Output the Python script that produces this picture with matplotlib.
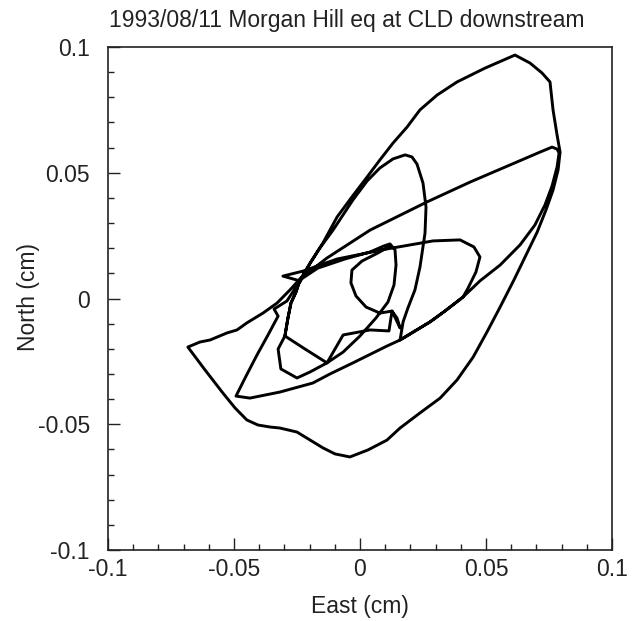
import matplotlib
matplotlib.use("Agg")
import matplotlib.pyplot as plt
import numpy as np
from matplotlib.ticker import MultipleLocator

plt.rcParams['font.family'] = ['Liberation Sans', 'DejaVu Sans']

title = "1993/08/11 Morgan Hill eq at CLD downstream"
xlabel = "East (cm)"
ylabel = "North (cm)"
ticks = [-0.1, -0.05, 0, 0.05, 0.1]
tick_labels = ["-0.1", "-0.05", "0", "0.05", "0.1"]

# particle motion (cm)
# outer loop
east_outer = [-0.0238, -0.0198, -0.0147, -0.0091, -0.0032, 0.0028, 0.0079, 0.0131, 0.0187, 0.0238,
              0.0306, 0.0385, 0.0496, 0.0615, 0.0675, 0.0722, 0.0754, 0.0766, 0.0782, 0.0794,
              0.0786, 0.0766, 0.0738, 0.0703, 0.0663, 0.0611, 0.0556, 0.0504, 0.0449, 0.0385,
              0.0318, 0.0238, 0.0159, 0.0107, 0.0032, -0.0040, -0.0099, -0.0147, -0.0198, -0.0250,
              -0.0318, -0.0357, -0.0405, -0.0449, -0.0496, -0.0544, -0.0615, -0.0683, -0.0635, -0.0595,
              -0.0528, -0.0488, -0.0449, -0.0385, -0.0329, -0.0278]
north_outer = [0.0066, 0.0141, 0.0221, 0.0324, 0.0404, 0.0483, 0.0551, 0.0618, 0.0682, 0.0750,
               0.0809, 0.0861, 0.0916, 0.0968, 0.0936, 0.0897, 0.0861, 0.0750, 0.0650, 0.0582,
               0.0511, 0.0431, 0.0352, 0.0264, 0.0181, 0.0074, -0.0034, -0.0133, -0.0233, -0.0324,
               -0.0396, -0.0455, -0.0515, -0.0563, -0.0602, -0.0630, -0.0618, -0.0594, -0.0563, -0.0531,
               -0.0515, -0.0511, -0.0503, -0.0483, -0.0435, -0.0376, -0.0284, -0.0193, -0.0173, -0.0165,
               -0.0137, -0.0125, -0.0097, -0.0058, -0.0018, 0.0034]

# long wedge (upper straight leg, lower curve, back up)
east_wedge = [-0.0238, -0.0131, 0.0040, 0.0266, 0.0437, 0.0595, 0.0714, 0.0762, 0.0782,
              0.0790, 0.0782, 0.0762, 0.0734, 0.0694, 0.0635, 0.0556, 0.0476, 0.0409, 0.0337,
              0.0278, 0.0159, 0.0107, -0.0028, -0.0119, -0.0187, -0.0318, -0.0437, -0.0492,
              -0.0456, -0.0409, -0.0365, -0.0325, -0.0341, -0.0290, -0.0238]
north_wedge = [0.0078, 0.0161, 0.0272, 0.0384, 0.0463, 0.0531, 0.0582, 0.0602, 0.0594,
               0.0579, 0.0523, 0.0447, 0.0372, 0.0292, 0.0213, 0.0133, 0.0070, 0.0006, -0.0050,
               -0.0093, -0.0165, -0.0189, -0.0256, -0.0300, -0.0336, -0.0372, -0.0396, -0.0388,
               -0.0316, -0.0225, -0.0145, -0.0070, -0.0042, -0.0010, 0.0070]

# flat loop to the right, then the tall inner loop
east_inner = [-0.0306, -0.0226, -0.0091, 0.0107, 0.0290, 0.0397, 0.0452, 0.0476, 0.0460, 0.0429,
              0.0409, 0.0337, 0.0278, 0.0159, 0.0171, 0.0190, 0.0218, 0.0238, 0.0258, 0.0262,
              0.0250, 0.0226, 0.0206, 0.0179, 0.0131, 0.0079, 0.0028, -0.0028, -0.0107, -0.0159,
              -0.0210, -0.0238]
north_inner = [0.0089, 0.0109, 0.0157, 0.0197, 0.0229, 0.0233, 0.0205, 0.0165, 0.0105, 0.0042,
               0.0006, -0.0050, -0.0093, -0.0165, -0.0093, -0.0038, 0.0034, 0.0125, 0.0260, 0.0364,
               0.0459, 0.0535, 0.0563, 0.0571, 0.0555, 0.0519, 0.0467, 0.0392, 0.0272, 0.0201,
               0.0121, 0.0074]

# small wiggles near the origin
east_small = [-0.0254, -0.0274, -0.0286, -0.0298, -0.0218, -0.0131, -0.0198, -0.0250, -0.0314, -0.0325,
              -0.0298, -0.0286, -0.0274, -0.0254, -0.0238, -0.0167, -0.0060, 0.0040, 0.0095, 0.0119,
              0.0139, 0.0143, 0.0135, 0.0111, 0.0063, 0.0000, -0.0067, -0.0131, -0.0067, 0.0040,
              0.0115, 0.0127, 0.0147, 0.0159, 0.0127, 0.0079, 0.0024, -0.0016, -0.0036, -0.0032,
              0.0008, 0.0071, 0.0119]
north_small = [0.0026, -0.0018, -0.0078, -0.0149, -0.0201, -0.0256, -0.0292, -0.0316, -0.0280, -0.0201,
               -0.0149, -0.0078, -0.0018, 0.0026, 0.0074, 0.0121, 0.0157, 0.0185, 0.0209, 0.0217,
               0.0193, 0.0133, 0.0054, -0.0014, -0.0078, -0.0149, -0.0213, -0.0256, -0.0145, -0.0125,
               -0.0129, -0.0050, -0.0078, -0.0117, -0.0050, -0.0058, -0.0034, 0.0010, 0.0062, 0.0113,
               0.0149, 0.0181, 0.0209]

east = np.concatenate([east_outer, east_wedge, east_inner, east_small])
north = np.concatenate([north_outer, north_wedge, north_inner, north_small])

fig = plt.figure(figsize=(6.35, 6.21), dpi=100)
ax = fig.add_axes([108/635, 1-550/621, 504/635, 503/621])
ax.plot(east, north, color='black', lw=2.1, solid_joinstyle='round')

ax.set_xlim(-0.1, 0.1)
ax.set_ylim(-0.1, 0.1)
ax.set_xticks(ticks)
ax.set_xticklabels(tick_labels)
ax.set_yticks(ticks)
ax.set_yticklabels(tick_labels)
ax.xaxis.set_minor_locator(MultipleLocator(0.01))
ax.yaxis.set_minor_locator(MultipleLocator(0.01))
ax.tick_params(which='both', direction='in', top=False, right=False, colors='#222222',
               labelsize=16.5, width=1.0)
ax.tick_params(which='major', length=8.5)
ax.tick_params(which='minor', length=4.3)
ax.tick_params(axis='x', pad=6)
ax.tick_params(axis='y', pad=13)
for s in ax.spines.values():
    s.set_linewidth(1.2)
    s.set_color('#222222')

fig.text(347/635, 1-20/621, title, ha='center', va='center', fontsize=16.5, color='#222222')
fig.text(360/635, 1-606/621, xlabel, ha='center', va='center', fontsize=16.5, color='#222222')
fig.text(28/635, 1-297/621, ylabel, ha='center', va='center', rotation=90, fontsize=16.5, color='#222222')

fig.savefig("out.png", dpi=100)
